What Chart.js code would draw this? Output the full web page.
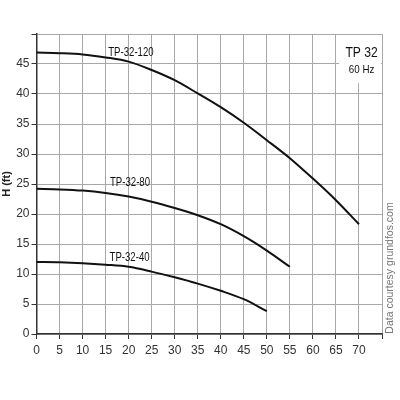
<!DOCTYPE html>
<html>
<head>
<meta charset="utf-8">
<script src="https://cdn.jsdelivr.net/npm/chart.js@4/dist/chart.umd.min.js"></script>
<style>
  html, body { margin: 0; padding: 0; background: #fff; }
  #wrap { width: 400px; height: 400px; }
</style>
</head>
<body>
<div id="wrap"><canvas id="pump"></canvas></div>
<script>
// flow (gpm) / head (ft)
var flow120 = [0, 5, 10, 15, 20, 25, 30, 35, 40, 45, 50, 55, 60, 65, 70];
var head120 = [46.9, 46.8, 46.6, 46.1, 45.4, 44.0, 42.3, 40.1, 37.8, 35.2, 32.3, 29.3, 25.9, 22.3, 18.3];

var flow80 = [0, 5, 10, 15, 20, 25, 30, 35, 40, 45, 50, 55];
var head80 = [24.2, 24.1, 23.9, 23.5, 22.9, 22.05, 21.0, 19.8, 18.3, 16.3, 13.9, 11.2];

var flow40 = [0, 5, 10, 15, 20, 25, 30, 35, 40, 45, 50];
var head40 = [12.0, 11.95, 11.8, 11.55, 11.2, 10.4, 9.45, 8.4, 7.2, 5.8, 3.8];

var curveNames = ["TP-32-120", "TP-32-80", "TP-32-40"];
var hiddenXTick = 75;
var hiddenYTick = 50;

var font = "'Liberation Sans', Arial, sans-serif";

function pts(xs, ys) {
    return xs.map(function (x, i) { return { x: x, y: ys[i] }; });
}

// curve names sit just above the curves, roughly at flow 20
var labelSpots = [
    { name: curveNames[0], x: 20.5, y: 47.0 },
    { name: curveNames[1], x: 20.3, y: 25.2 },
    { name: curveNames[2], x: 20.2, y: 12.8 }
];

// the original uses a condensed face; squeeze text horizontally
function narrowText(c, txt, x, y, squeeze) {
    c.save();
    c.translate(x, y);
    c.scale(squeeze, 1);
    c.fillText(txt, 0, 0);
    c.restore();
}

var extras = {
    id: 'extras',
    afterDatasetsDraw: function (chart) {
        var c = chart.ctx, xs = chart.scales.x, ys = chart.scales.y;
        c.save();
        c.fillStyle = '#111';
        c.font = '13px ' + font;
        c.textAlign = 'center';
        c.textBaseline = 'middle';
        labelSpots.forEach(function (l) {
            narrowText(c, l.name, xs.getPixelForValue(l.x), ys.getPixelForValue(l.y), 0.74);
        });

        // white box with the model name in the top right corner
        var area = chart.chartArea;
        var bx = xs.getPixelForValue(65.7), by = area.top + 1;
        c.fillStyle = '#fff';
        c.fillRect(bx, by, area.right - bx - 1, ys.getPixelForValue(41.8) - by);
        c.fillStyle = '#111';
        c.font = '15.5px ' + font;
        narrowText(c, 'TP 32', (bx + area.right) / 2 + 1, ys.getPixelForValue(46.9), 0.78);
        c.font = '11.5px ' + font;
        narrowText(c, '60 Hz', (bx + area.right) / 2 + 1, ys.getPixelForValue(44.1), 0.85);

        // credit along the right edge
        c.translate(390, 268);
        c.rotate(-Math.PI / 2);
        c.fillStyle = '#777';
        c.font = '10.5px ' + font;
        c.fillText('Data courtesy grundfos.com', 0, 0);
        c.restore();
    }
};

function ds(xs, ys) {
    return {
        data: pts(xs, ys),
        borderColor: '#111',
        borderWidth: 2,
        pointRadius: 0,
        cubicInterpolationMode: 'monotone',
        fill: false
    };
}

new Chart(document.getElementById('pump'), {
    type: 'line',
    data: {
        datasets: [ds(flow120, head120), ds(flow80, head80), ds(flow40, head40)]
    },
    options: {
        responsive: true,
        maintainAspectRatio: false,
        animation: false,
        layout: { padding: { left: 0, top: 34, right: 18, bottom: 0 } },
        plugins: {
            legend: { display: false },
            tooltip: { enabled: false }
        },
        scales: {
            x: {
                type: 'linear',
                min: 0,
                max: 75,
                ticks: {
                    stepSize: 5,
                    color: '#333',
                    font: { family: font, size: 12 },
                    padding: 4,
                    maxRotation: 0,
                    autoSkip: false,
                    callback: function (v) { return v === hiddenXTick ? '' : v; }
                },
                grid: { color: '#a8a8a8', tickColor: '#333', tickLength: 5, lineWidth: 1 },
                border: { color: '#333', width: 1.5 },
                afterFit: function (s) { s.height = 66; }
            },
            y: {
                min: 0,
                max: 50,
                ticks: {
                    stepSize: 5,
                    color: '#333',
                    font: { family: font, size: 12 },
                    padding: 2,
                    callback: function (v) { return v === hiddenYTick ? '' : v; }
                },
                title: {
                    display: true,
                    text: 'H (ft)',
                    color: '#222',
                    font: { family: font, size: 11, weight: 'bold' },
                    padding: 0
                },
                grid: { color: '#a8a8a8', tickColor: '#333', tickLength: 5, lineWidth: 1 },
                border: { color: '#333', width: 1.5 },
                afterFit: function (s) { s.width = 36.5; }
            }
        }
    },
    plugins: [extras]
});
</script>
</body>
</html>
